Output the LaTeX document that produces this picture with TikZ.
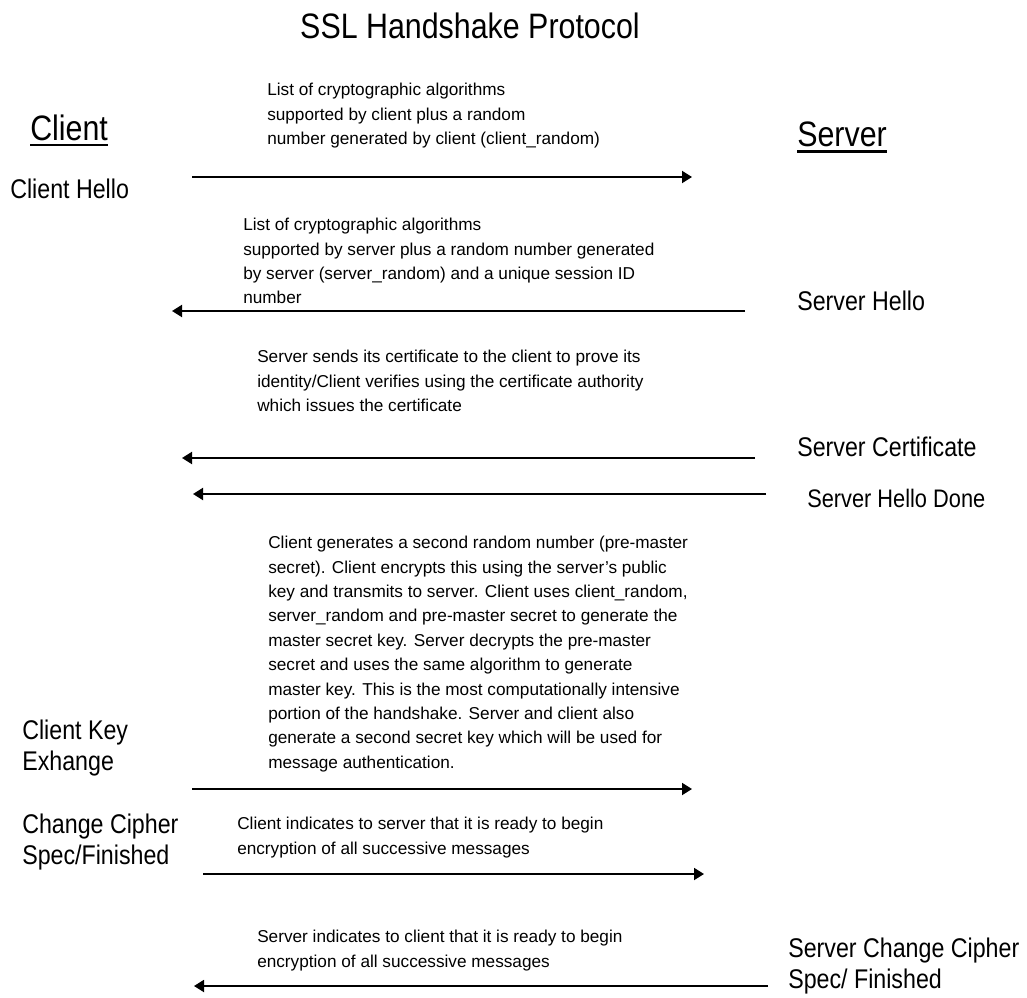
\documentclass[tikz,border=0pt]{standalone}
\usepackage{fontspec}
\setmainfont{Liberation Sans}
\newfontfamily\narrowsf{Liberation Sans}[FakeStretch=0.86]
\usetikzlibrary{arrows.meta,positioning}

\begin{document}
\begin{tikzpicture}[x=0.75pt,y=-0.75pt,
    note/.style={anchor=north west, inner sep=0pt, align=left, font=\fontsize{12.9}{18.3}\selectfont},
    party/.style={anchor=north west, inner sep=0pt, align=left, font=\narrowsf\fontsize{20.25}{23.25}\selectfont},
    head/.style={anchor=north west, inner sep=0pt, font=\narrowsf\fontsize{26.5}{30}\selectfont},
    uline/.style={line width=1.7pt},
    msg/.style={-{Triangle[length=7.5pt,width=9pt]}, line width=1.4pt}
]
\useasboundingbox (0,0) rectangle (1027,998);

% title and the two sides
\node[head, anchor=north] (title) at (470,13) {SSL Handshake Protocol};
\node[head] (client) at (30,115) {Client};
\node[head] (server) at (797,122) {Server};
\draw[uline] ([yshift=-3pt]client.base west) -- ([yshift=-3pt]client.base east);
\draw[uline] ([yshift=-3.4pt]server.base west) -- ([yshift=-3.4pt]server.base east);

% message names
\node[party] (chello) at (10,179) {Client Hello};
\node[party] (shello) at (797,291) {Server Hello};
\node[party] (scert) at (797,437) {Server Certificate};
\node[party, font=\narrowsf\fontsize{19}{23.25}\selectfont] (sdone) at (807,489) {Server Hello Done};
\node[party] (ckey) at (22,720) {Client Key\\Exhange};
\node[party] (cspec) at (22,814) {Change Cipher\\Spec/Finished};
\node[party] (sspec) at (788,938) {Server Change Cipher\\Spec/ Finished};

% explanations
\node[note] (n1) at (267,83) {List of cryptographic algorithms\\supported by client plus a random\\number generated by client (client\_random)};
\node[note] (n2) at (243,218) {List of cryptographic algorithms\\supported by server plus a random number generated\\by server (server\_random) and a unique session ID\\number};
\node[note] (n3) at (257,350) {Server sends its certificate to the client to prove its\\identity/Client verifies using the certificate authority\\which issues the certificate};
\node[note] (n4) at (268,536) {Client generates a second random number (pre-master\\secret). Client encrypts this using the server’s public\\key and transmits to server. Client uses client\_random,\\server\_random and pre-master secret to generate the\\master secret key. Server decrypts the pre-master\\secret and uses the same algorithm to generate\\master key. This is the most computationally intensive\\portion of the handshake. Server and client also\\generate a second secret key which will be used for\\message authentication.};
\node[note] (n5) at (237,817) {Client indicates to server that it is ready to begin\\encryption of all successive messages};
\node[note] (n6) at (257,930) {Server indicates to client that it is ready to begin\\encryption of all successive messages};

% arrow ends
\coordinate (c1) at (192,177);  \coordinate (s1) at (692,177);
\coordinate (s2) at (745,311);  \coordinate (c2) at (172,311);
\coordinate (s3) at (755,458);  \coordinate (c3) at (182,458);
\coordinate (s4) at (766,494);  \coordinate (c4) at (193,494);
\coordinate (c5) at (192,789);  \coordinate (s5) at (692,789);
\coordinate (c6) at (203,874);  \coordinate (s6) at (704,874);
\coordinate (s7) at (768,986);  \coordinate (c7) at (194,986);

\draw[msg] (c1) -- (s1);
\draw[msg] (s2) -- (c2);
\draw[msg] (s3) -- (c3);
\draw[msg] (s4) -- (c4);
\draw[msg] (c5) -- (s5);
\draw[msg] (c6) -- (s6);
\draw[msg] (s7) -- (c7);
\end{tikzpicture}
\end{document}
